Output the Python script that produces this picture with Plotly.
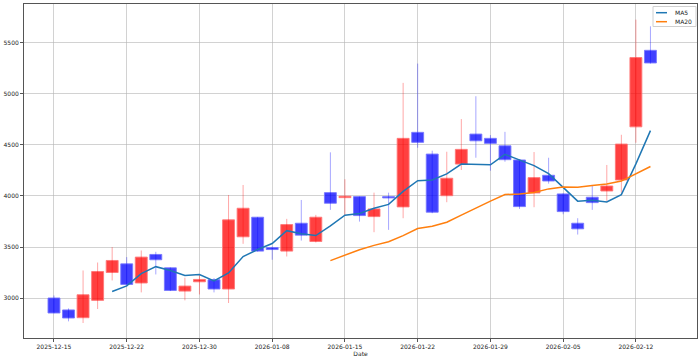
import plotly.graph_objects as go

dates = ["2025-12-15", "2025-12-16", "2025-12-17", "2025-12-18", "2025-12-19",
         "2025-12-22", "2025-12-23", "2025-12-24", "2025-12-26", "2025-12-29",
         "2025-12-30", "2026-01-02", "2026-01-05", "2026-01-06", "2026-01-07",
         "2026-01-08", "2026-01-09", "2026-01-12", "2026-01-13", "2026-01-14",
         "2026-01-15", "2026-01-16", "2026-01-19", "2026-01-20", "2026-01-21",
         "2026-01-22", "2026-01-23", "2026-01-26", "2026-01-27", "2026-01-28",
         "2026-01-29", "2026-01-30", "2026-02-02", "2026-02-03", "2026-02-04",
         "2026-02-05", "2026-02-06", "2026-02-09", "2026-02-10", "2026-02-11",
         "2026-02-12", "2026-02-13"]

opens = [3000, 2883, 2807, 2977, 3250, 3335, 3147, 3427, 3296, 3068,
         3159, 3179, 3088, 3600, 3792, 3495, 3460, 3733, 3554, 4033,
         3984, 3994, 3798, 3994, 3893, 4624, 4411, 4003, 4313, 4607,
         4565, 4492, 4353, 4030, 4203, 4020, 3733, 3988, 4049, 4157,
         4678, 5428]
highs = [3025, 2898, 3270, 3348, 3499, 3401, 3466, 3453, 3300, 3199,
         3225, 3196, 4010, 4108, 3795, 3505, 3776, 3961, 3815, 4428,
         4164, 3995, 4033, 4033, 5109, 5298, 4444, 4434, 4754, 4978,
         4597, 4629, 4360, 4431, 4375, 4027, 3782, 4108, 4304, 4600,
         5729, 5663]
lows = [2850, 2771, 2755, 2892, 3172, 3113, 3055, 3231, 3068, 2977,
        3035, 3055, 2951, 3531, 3455, 3375, 3407, 3563, 3544, 3864,
        3815, 3749, 3645, 3668, 3782, 4473, 3831, 3939, 4255, 4375,
        4248, 4336, 3873, 3890, 4121, 3821, 3622, 3864, 3952, 4033,
        4522, 5298]
closes = [2853, 2804, 3032, 3260, 3368, 3133, 3401, 3375, 3074, 3117,
          3182, 3088, 3766, 3880, 3460, 3475, 3720, 3616, 3792, 3929,
          3998, 3808, 3873, 3981, 4565, 4526, 3841, 4174, 4457, 4541,
          4516, 4356, 3896, 4180, 4147, 3847, 3678, 3935, 4098, 4509,
          5357, 5304]

ma5 = [None, None, None, None, 3063.4, 3119.4, 3238.8, 3307.4, 3270.2, 3220.0,
       3229.8, 3167.2, 3245.4, 3406.6, 3475.2, 3533.8, 3660.2, 3630.2, 3612.6, 3706.4,
       3811.0, 3828.6, 3880.0, 3917.8, 4045.0, 4150.6, 4157.2, 4217.4, 4312.6, 4307.8,
       4305.8, 4408.8, 4353.2, 4297.8, 4219.0, 4085.2, 3949.6, 3957.4, 3941.0, 4013.4,
       4315.4, 4640.6]
ma20 = [None] * 19 + [3366.3, 3423.5, 3473.7, 3515.8, 3551.8, 3611.7, 3681.3, 3703.3,
                      3743.3, 3812.4, 3883.6, 3950.3, 4013.7, 4020.2, 4035.2, 4069.6,
                      4088.2, 4086.1, 4102.0, 4117.3, 4146.3, 4214.3, 4289.1]

tick_dates = ["2025-12-15", "2025-12-22", "2025-12-30", "2026-01-08", "2026-01-15",
              "2026-01-22", "2026-01-29", "2026-02-05", "2026-02-12"]
y_ticks = [3000, 3500, 4000, 4500, 5000, 5500]
legend_names = ["MA5", "MA20"]
legend_colors = ["#1f77b4", "#ff7f0e"]

RED_FILL = "rgba(255,0,0,0.75)"
BLUE_FILL = "rgba(0,0,255,0.75)"
RED_EDGE = "rgba(255,120,120,0.9)"
BLUE_EDGE = "rgba(120,120,255,0.9)"
RED_WICK = "rgba(255,0,0,0.35)"
BLUE_WICK = "rgba(0,0,255,0.35)"

W, H = 700, 361
ML, MR, MT, MB = 24, 3, 4, 23

fig = go.Figure()

# wicks
for up, col in [(True, RED_WICK), (False, BLUE_WICK)]:
    wx, wy = [], []
    for d, o, h, l, c in zip(dates, opens, highs, lows, closes):
        if (c >= o) == up:
            wx += [d, d, None]
            wy += [l, h, None]
    fig.add_trace(go.Scatter(x=wx, y=wy, mode="lines", line=dict(color=col, width=1),
                             showlegend=False, hoverinfo="skip"))

# bodies
for up, fill, edge in [(True, RED_FILL, RED_EDGE), (False, BLUE_FILL, BLUE_EDGE)]:
    bx, bb, bh = [], [], []
    for d, o, c in zip(dates, opens, closes):
        if (c >= o) == up:
            bx.append(d)
            bb.append(min(o, c))
            bh.append(max(abs(c - o), 8))
    fig.add_trace(go.Bar(x=bx, y=bh, base=bb, width=0.82,
                         marker=dict(color=fill, line=dict(color=edge, width=1)),
                         showlegend=False))

fig.add_trace(go.Scatter(x=dates, y=ma5, mode="lines", name=legend_names[0],
                         line=dict(color=legend_colors[0], width=1.5), showlegend=False))
fig.add_trace(go.Scatter(x=dates, y=ma20, mode="lines", name=legend_names[1],
                         line=dict(color=legend_colors[1], width=1.5), showlegend=False))

# legend drawn manually (matplotlib style)
pw, ph = W - ML - MR, H - MT - MB
def px(x):
    return (x - ML) / pw
def py(y):
    return 1 - (y - MT) / ph

shapes = [dict(type="rect", xref="paper", yref="paper",
               x0=px(653), x1=px(696), y0=py(26.5), y1=py(6.5),
               fillcolor="rgba(255,255,255,0.8)", line=dict(color="#d0d0d0", width=1))]
annotations = []
for i, (nm, col) in enumerate(zip(legend_names, legend_colors)):
    yy = 12.7 + 9 * i
    shapes.append(dict(type="line", xref="paper", yref="paper",
                       x0=px(656), x1=px(667), y0=py(yy), y1=py(yy),
                       line=dict(color=col, width=1.5)))
    annotations.append(dict(xref="paper", yref="paper", x=px(673), y=py(yy),
                            text=nm, showarrow=False, xanchor="left", yanchor="middle",
                            font=dict(size=6, color="#222")))

fig.update_layout(
    width=W, height=H,
    margin=dict(l=ML, r=MR, t=MT, b=MB, autoexpand=False),
    paper_bgcolor="white", plot_bgcolor="white",
    font=dict(family="DejaVu Sans", size=6, color="#222"),
    barmode="overlay",
    showlegend=False,
    shapes=shapes, annotations=annotations,
)
fig.update_xaxes(
    type="category", categoryorder="array", categoryarray=dates,
    range=[-2.06, 44.2], automargin=False,
    tickmode="array", tickvals=tick_dates, ticktext=tick_dates,
    showgrid=True, gridcolor="rgba(180,180,180,0.6)", gridwidth=1,
    showline=True, linecolor="#555", linewidth=1, mirror=True,
    ticks="outside", ticklen=3, tickcolor="#555", tickfont=dict(size=6, color="#222"),
    title=dict(text="Date", font=dict(size=6, color="#222"), standoff=1),
    zeroline=False,
)
fig.update_yaxes(
    range=[2608, 5882], automargin=False,
    tickmode="array", tickvals=y_ticks,
    showgrid=True, gridcolor="rgba(180,180,180,0.6)", gridwidth=1,
    showline=True, linecolor="#555", linewidth=1, mirror=True,
    ticks="outside", ticklen=3, tickcolor="#555", tickfont=dict(size=6, color="#222"),
    zeroline=False,
)

fig.write_html("out.html", config={"displayModeBar": False},
               post_script="document.body.style.margin='0px';document.body.style.overflow='hidden';")
